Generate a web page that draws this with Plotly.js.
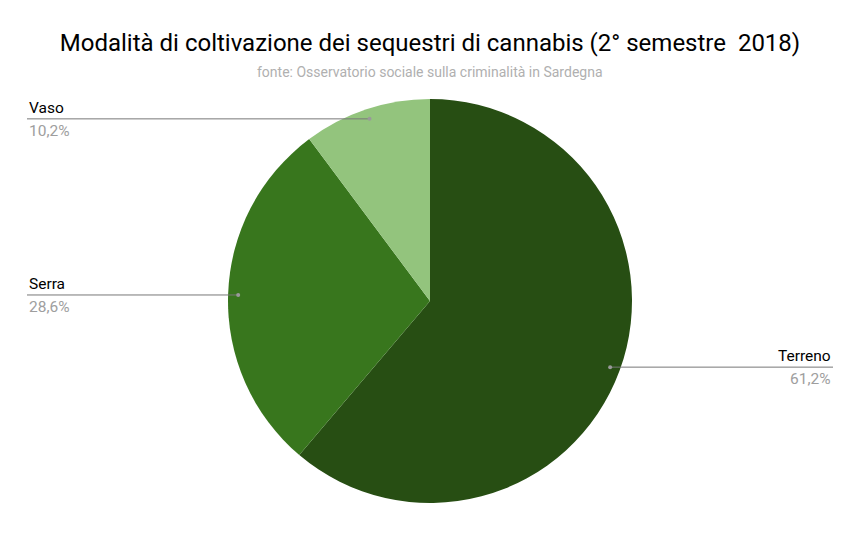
<!DOCTYPE html>
<html>
<head>
<meta charset="utf-8">
<script src="https://cdn.plot.ly/plotly-3.0.1.min.js"></script>
<style>
  html, body { margin: 0; padding: 0; background: #fff; }
  #chart { width: 860px; height: 556px; }
</style>
</head>
<body>
<div id="chart"></div>
<script>
const labels = ['Terreno', 'Serra', 'Vaso']
const values = [61.2, 28.6, 10.2]
const colors = ['#274e13', '#38761d', '#93c47d']

// layout geometry in pixels
const W = 860
const H = 556
const CX = 430
const CY = 301
const R = 202
const LEFT_EDGE = 27
const RIGHT_EDGE = 833

const px = x => x / W
const py = y => 1 - y / H

const total = values.reduce((a, b) => a + b, 0)
const shapes = []
const annotations = [{
  text: 'fonte: Osservatorio sociale sulla criminalità in Sardegna',
  xref: 'paper', yref: 'paper', x: 0.5, y: py(72),
  xanchor: 'center', yanchor: 'middle', showarrow: false,
  font: { family: 'Roboto', size: 14, color: '#b0b0b0' }
}]

let acc = 0
values.forEach((v, i) => {
  let mid = (acc + v / 2) / total * 2 * Math.PI
  acc += v
  let dx = CX + 0.95 * R * Math.sin(mid)
  let dy = CY - 0.95 * R * Math.cos(mid)
  let right = Math.sin(mid) > 0
  let edge = right ? RIGHT_EDGE : LEFT_EDGE
  shapes.push({
    type: 'line', xref: 'paper', yref: 'paper',
    x0: px(dx), y0: py(dy), x1: px(edge), y1: py(dy),
    line: { color: '#777777', width: 1 }
  })
  shapes.push({
    type: 'circle', xref: 'paper', yref: 'paper',
    x0: px(dx - 2), y0: py(dy - 2), x1: px(dx + 2), y1: py(dy + 2),
    fillcolor: '#999999', line: { width: 0 }
  })
  annotations.push({
    text: labels[i], xref: 'paper', yref: 'paper',
    x: px(edge), y: py(dy), xanchor: right ? 'right' : 'left', yanchor: 'bottom',
    showarrow: false, font: { family: 'Roboto', size: 15.5, color: '#000000' }
  })
  annotations.push({
    text: (v / total * 100).toFixed(1).replace('.', ',') + '%',
    xref: 'paper', yref: 'paper',
    x: px(edge), y: py(dy + 1), xanchor: right ? 'right' : 'left', yanchor: 'top',
    showarrow: false, font: { family: 'Roboto', size: 15.5, color: '#9e9e9e' }
  })
})

const traces = [{
  type: 'pie',
  labels: labels,
  values: values,
  sort: false,
  direction: 'clockwise',
  rotation: 0,
  marker: { colors: colors, line: { width: 0 } },
  textinfo: 'none',
  hoverinfo: 'skip',
  domain: { x: [px(CX - R), px(CX + R)], y: [py(CY + R), py(CY - R)] }
}]

const layout = {
  width: W,
  height: H,
  margin: { l: 0, r: 0, t: 0, b: 0 },
  paper_bgcolor: '#ffffff',
  showlegend: false,
  title: {
    text: 'Modalità di coltivazione dei sequestri di cannabis (2° semestre  2018)',
    x: 0.5, xanchor: 'center',
    y: 1 - 43 / H, yanchor: 'middle',
    font: { family: 'Roboto', size: 24, color: '#000000' }
  },
  shapes: shapes,
  annotations: annotations
}

Plotly.newPlot('chart', traces, layout, { displayModeBar: false, staticPlot: true })
</script>
</body>
</html>
